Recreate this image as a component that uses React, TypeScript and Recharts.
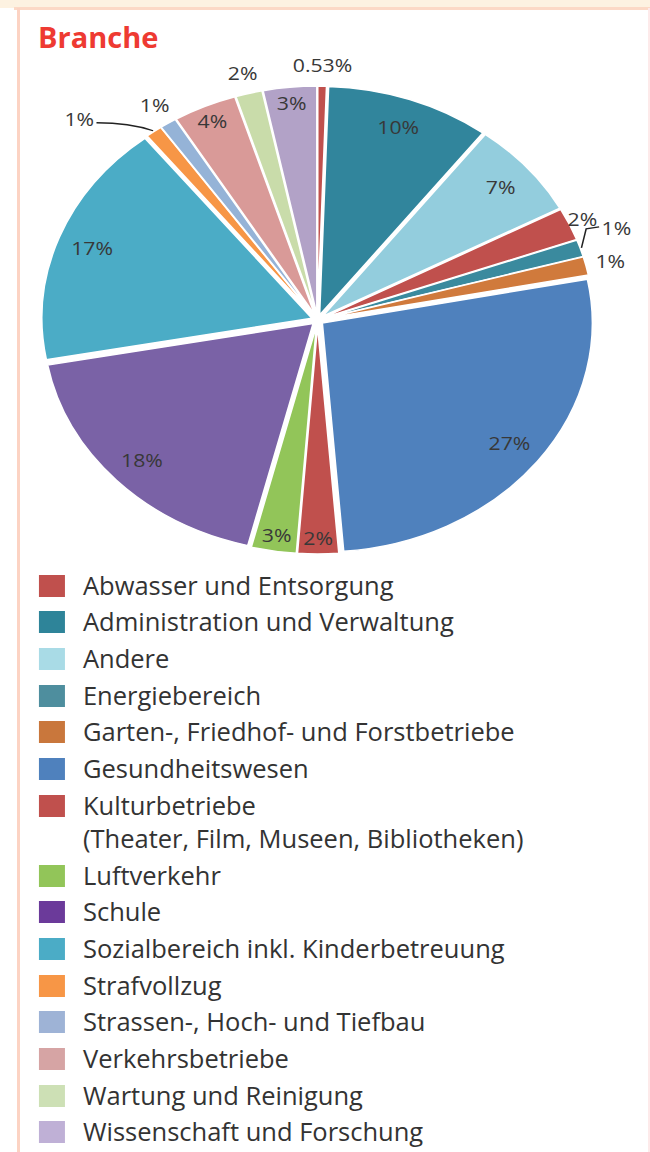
import React from 'react';
import { PieChart, Pie, Cell, Sector, Legend } from 'recharts';

// ---- data ----
const SLICE_NAMES = [
  'Abwasser und Entsorgung',
  'Administration und Verwaltung',
  'Andere',
  'Unbekannt',
  'Energiebereich',
  'Garten-, Friedhof- und Forstbetriebe',
  'Gesundheitswesen',
  'Kulturbetriebe',
  'Luftverkehr',
  'Schule',
  'Sozialbereich inkl. Kinderbetreuung',
  'Strafvollzug',
  'Strassen-, Hoch- und Tiefbau',
  'Verkehrsbetriebe',
  'Wartung und Reinigung',
  'Wissenschaft und Forschung',
];
const SLICE_VALUES = [0.53, 9.8, 6.8, 2.3, 1.2, 1.3, 26.8, 2.45, 2.7, 18.2, 17.3, 1.0, 1.0, 3.8, 1.6, 3.2];
const SLICE_COLORS = [
  '#c0504d', '#31859c', '#93cddd', '#c0504d', '#3a8a9e', '#d07a3c', '#4f81bd', '#c0504d',
  '#92c559', '#7a62a6', '#4bacc6', '#f79646', '#95b3d7', '#d99a98', '#c9dcaa', '#b2a2c7',
];

const LEGEND_NAMES = [
  'Abwasser und Entsorgung',
  'Administration und Verwaltung',
  'Andere',
  'Energiebereich',
  'Garten-, Friedhof- und Forstbetriebe',
  'Gesundheitswesen',
  'Kulturbetriebe\n(Theater, Film, Museen, Bibliotheken)',
  'Luftverkehr',
  'Schule',
  'Sozialbereich inkl. Kinderbetreuung',
  'Strafvollzug',
  'Strassen-, Hoch- und Tiefbau',
  'Verkehrsbetriebe',
  'Wartung und Reinigung',
  'Wissenschaft und Forschung',
];
const LEGEND_COLORS = [
  '#c0504d', '#2e8499', '#a9dbe6', '#4e8e9e', '#c9773c', '#4f81bd', '#c0504d',
  '#92c559', '#6b3a9a', '#4bacc6', '#f79646', '#9eb3d6', '#d6a4a4', '#cde0b5', '#bfb0d6',
];

const LEADER_SLICES = ['Energiebereich', 'Strafvollzug'];

const chartData = SLICE_NAMES.map((name, i) => ({ name, value: SLICE_VALUES[i] }));

// ---- geometry / style ----
const S = 1.18;
const INNER_W = 551;
const RAD = Math.PI / 180;
const EXPLODE = 5;
const FONT = "'Open Sans', 'DejaVu Sans', sans-serif";

const fmt = (v: number) => (v < 1 ? `${v.toFixed(2)}%` : `${Math.round(v)}%`);

const ExplodedSector = (props: any) => {
  const mid = (props.startAngle + props.endAngle) / 2;
  const dx = EXPLODE * Math.cos(-mid * RAD);
  const dy = EXPLODE * Math.sin(-mid * RAD);
  return <Sector {...props} cx={props.cx + dx} cy={props.cy + dy} />;
};

const renderLabel = (p: any) => {
  const { cx, cy, midAngle, outerRadius, value, name, index } = p;
  const c = Math.cos(-midAngle * RAD);
  const s = Math.sin(-midAngle * RAD);
  const textStyle = { fontFamily: FONT, fontSize: 18, fill: '#383838' } as any;
  if (LEADER_SLICES.includes(name)) {
    const r0 = outerRadius + EXPLODE + 1;
    const x0 = cx + r0 * c;
    const y0 = cy + r0 * s;
    if (c >= 0) {
      const x1 = x0 + 4, y1 = y0 - 19;
      const x2 = x1 + 11, y2 = y1 - 2;
      return (
        <g key={`l-${index}`}>
          <path d={`M${x0},${y0} L${x1},${y1} L${x2},${y2}`} stroke="#222" strokeWidth={1.3} fill="none" />
          <text x={x2 + 2} y={y2 + 1} textAnchor="start" dominantBaseline="central" style={textStyle}>{fmt(value)}</text>
        </g>
      );
    }
    const x1 = x0 - 48, y1 = y0 - 8;
    return (
      <g key={`l-${index}`}>
        <path d={`M${x0},${y0} C${x0 - 15},${y0 - 6} ${x1 + 15},${y1} ${x1},${y1}`} stroke="#222" strokeWidth={1.3} fill="none" />
        <text x={x1 - 2} y={y1 - 4} textAnchor="end" dominantBaseline="central" style={textStyle}>{fmt(value)}</text>
      </g>
    );
  }
  let r: number;
  if (value < 2) r = outerRadius + EXPLODE + 21;
  else if (value < 2.4) r = outerRadius + EXPLODE + 12;
  else if (value >= 5) r = outerRadius * 0.87 + EXPLODE;
  else r = outerRadius * 0.93 + EXPLODE;
  return (
    <text key={`l-${index}`} x={cx + r * c} y={cy + r * s} textAnchor="middle" dominantBaseline="central" style={textStyle}>
      {fmt(value)}
    </text>
  );
};

const renderLegend = () => (
  <div style={{ fontFamily: FONT, fontSize: 25.5, color: '#333333', lineHeight: '33px' }}>
    {LEGEND_NAMES.map((n, i) => (
      <div key={n} style={{ display: 'flex', alignItems: 'flex-start', marginBottom: 3.7 }}>
        <span style={{ width: 26, height: 22, background: LEGEND_COLORS[i], marginTop: 6, flexShrink: 0 }} />
        <span style={{ marginLeft: 18, whiteSpace: 'pre-line' }}>{n}</span>
      </div>
    ))}
  </div>
);

export default function App() {
  return (
    <div style={{ position: 'absolute', left: 0, top: 0, width: 650, height: 1152, background: '#fff', overflow: 'hidden' }}>
      <div style={{ position: 'absolute', left: 0, top: 0, width: 650, height: 8, background: '#fdf2e1' }} />
      <div style={{ position: 'absolute', left: 14, top: 7, width: 636, height: 3, background: '#fcd9c6' }} />
      <div style={{ position: 'absolute', left: 17, top: 8, width: 3, height: 1144, background: '#fcd3c3' }} />
      <div style={{ position: 'absolute', left: 648, top: 8, width: 2, height: 1144, background: '#fdeaea' }} />
      <div
        style={{
          position: 'absolute', left: 38, top: 22, fontFamily: FONT, fontWeight: 700,
          fontSize: 29, lineHeight: 1, color: '#ee3a32',
        }}
      >
        Branche
      </div>
      <div style={{ position: 'absolute', left: 0, top: 0, width: INNER_W, height: 1152, transform: `scaleX(${S})`, transformOrigin: '0 0' }}>
        <PieChart width={INNER_W} height={1152} margin={{ top: 0, right: 0, bottom: 0, left: 0 }}>
          <Pie
            data={chartData}
            dataKey="value"
            nameKey="name"
            cx={269.1}
            cy={320}
            outerRadius={229}
            startAngle={90}
            endAngle={-270}
            stroke="#ffffff"
            strokeWidth={1.5}
            shape={ExplodedSector}
            label={renderLabel}
            labelLine={false}
            isAnimationActive={false}
          >
            {chartData.map((d, i) => (
              <Cell key={d.name + i} fill={SLICE_COLORS[i]} />
            ))}
          </Pie>
          <Legend
            content={renderLegend}
            wrapperStyle={{
              position: 'absolute', left: 39 / S, top: 568.7, width: 600, height: 580,
              transform: `scaleX(${1 / S})`, transformOrigin: '0 0',
            }}
          />
        </PieChart>
      </div>
    </div>
  );
}
